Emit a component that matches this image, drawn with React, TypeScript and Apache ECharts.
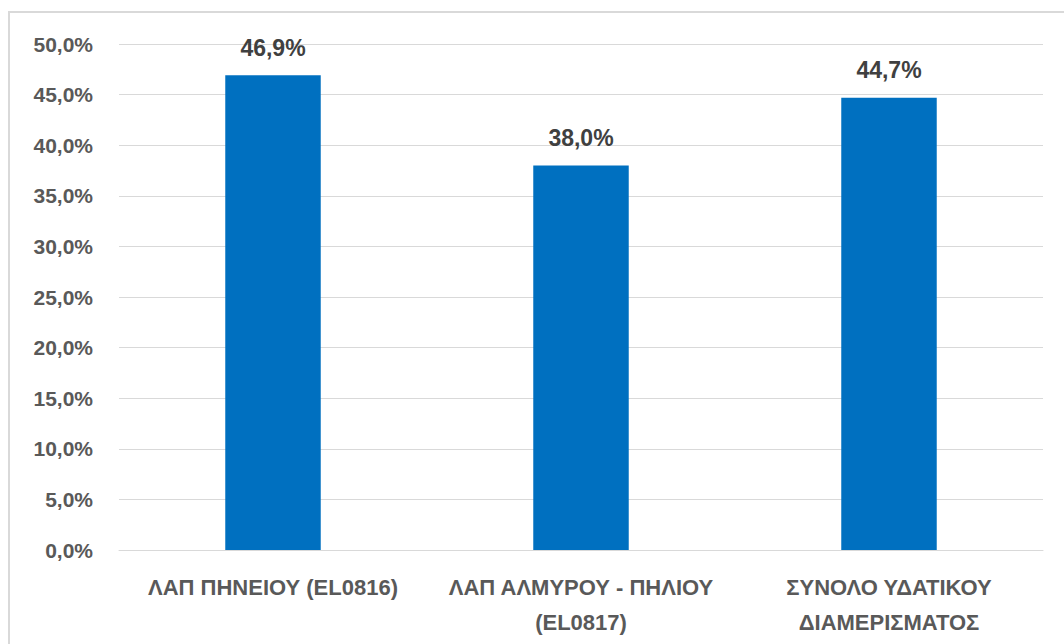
import React, { useEffect, useRef } from "react";
import * as echarts from "echarts";

const categories = ["ΛΑΠ ΠΗΝΕΙΟΥ (EL0816)", "ΛΑΠ ΑΛΜΥΡΟΥ - ΠΗΛΙΟΥ\n(EL0817)", "ΣΥΝΟΛΟ ΥΔΑΤΙΚΟΥ\nΔΙΑΜΕΡΙΣΜΑΤΟΣ"];
const values = [46.9, 38.0, 44.7];

const fmt = (v: number) => v.toFixed(1).replace(".", ",") + "%";
const FONT = "'Liberation Sans', Arial, sans-serif";
const TEXT = "#595959";

export default function App() {
  const ref = useRef<HTMLDivElement>(null);
  useEffect(() => {
    if (!ref.current) return;
    const chart = echarts.init(ref.current, undefined, { renderer: "svg" });
    chart.setOption({
      animation: false,
      backgroundColor: "#ffffff",
      graphic: [
        {
          type: "rect",
          shape: { x: 9, y: 12, width: 1100, height: 700 },
          style: { fill: "none", stroke: "#d9d9d9", lineWidth: 2 },
          silent: true,
        },
      ],
      grid: { left: 119, right: 21, top: 44, bottom: 94 },
      xAxis: {
        type: "category",
        data: categories,
        axisTick: { show: false },
        axisLine: { show: true, lineStyle: { color: "#d9d9d9", width: 1 } },
        axisLabel: {
          color: TEXT,
          fontFamily: FONT,
          fontWeight: "bold",
          fontSize: 22,
          lineHeight: 35,
          margin: 20,
          interval: 0,
        },
      },
      yAxis: {
        type: "value",
        min: 0,
        max: 50,
        interval: 5,
        axisLine: { show: false },
        axisTick: { show: false },
        splitLine: { lineStyle: { color: "#d9d9d9", width: 1 } },
        axisLabel: {
          color: TEXT,
          fontFamily: FONT,
          fontWeight: "bold",
          fontSize: 21,
          margin: 26,
          formatter: (v: number) => fmt(v),
        },
      },
      series: [
        {
          type: "bar",
          data: values,
          barWidth: "31%",
          itemStyle: { color: "#0070C0" },
          label: {
            show: true,
            position: "top",
            distance: 16,
            color: "#404040",
            fontFamily: FONT,
            fontWeight: "bold",
            fontSize: 23,
            formatter: (p: any) => fmt(p.value),
          },
        },
      ],
    });
    return () => chart.dispose();
  }, []);
  return (
    <div
      ref={ref}
      style={{ position: "absolute", left: 0, top: 0, width: 1064, height: 644 }}
    />
  );
}
